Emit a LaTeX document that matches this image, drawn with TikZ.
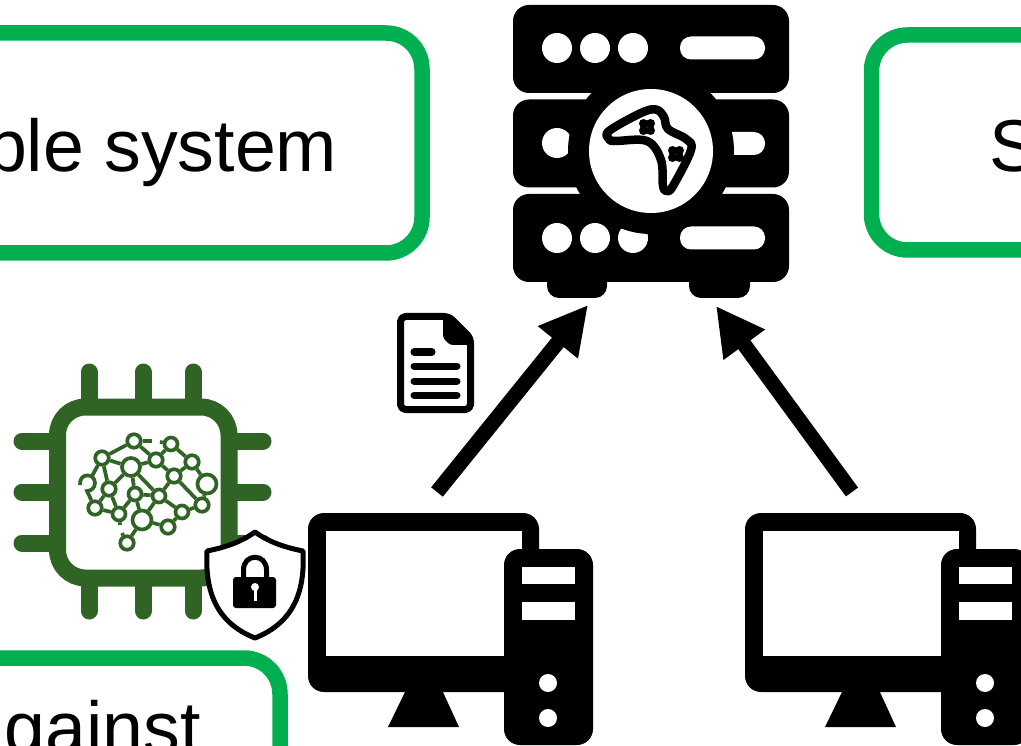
\documentclass[tikz,border=0pt]{standalone}
\usepackage{fontspec}
\setmainfont{Liberation Sans}
\usetikzlibrary{arrows.meta}
\definecolor{boxgreen}{HTML}{00B050}
\definecolor{chipgreen}{HTML}{2F6424}
\tikzset{
	greenbox/.style={draw=boxgreen,line width=15.5pt,rounded corners=36pt},
	boxtext/.style={inner sep=0pt,font=\fontsize{73.5}{80}\selectfont},
	bigarrow/.style={line width=15pt,-{Triangle[length=48pt,width=48pt]}},
	pin/.style={chipgreen,line width=17pt,line cap=round},
	brainnode/.style={circle,draw=chipgreen,fill=white,line width=3.7pt,inner sep=0pt},
	brainedge/.style={chipgreen,line width=3.7pt},
	docline/.style={black,line width=7pt,line cap=round}
}
\begin{document}
\begin{tikzpicture}[x=1pt,y=-1pt]
	\useasboundingbox (0,0) rectangle (1021,746);
	\clip (0,0) rectangle (1021,746);
	% hop chu
	\draw[greenbox] (-100,33) rectangle (422,253);
	\draw[greenbox] (1200,35) rectangle (871.5,250);
	\draw[greenbox] (-100,658) rectangle (280,900);
	\node[boxtext,anchor=base east] (sys) at (337.5,171.5) {ble system};
	\node[boxtext,anchor=base west] (srt) at (989.5,171.5) {S};
	\node[boxtext,anchor=base east] (aga) at (201,753) {against};
	% may chu
	\foreach \r in {5,99.5,194}{
		\fill[rounded corners=16pt] (513,\r) rectangle (789,\r+88);
	}
	\fill[rounded corners=12pt] (547,270) rectangle (607,298);
	\fill[rounded corners=12pt] (689,270) rectangle (750,298);
	\foreach \r in {48,238}{
		\fill[white] (557,\r) circle (15) (595,\r) circle (15) (633,\r) circle (15);
	}
	\fill[white] (557,143) circle (15);
	\foreach \r in {48,143.5,238}{
		\fill[white,rounded corners=11pt] (680,\r-11.5) rectangle (765,\r+11.5);
	}
	\fill (651,151) circle (83);
	\fill[white] (651,151) circle (62);
	\draw[line width=8.5pt,line join=round] plot[smooth cycle,tension=.6] coordinates {
		(609,131) (641,113) (656,109.5) (664,117) (668,129) (686,139) (691,150) (673,186) (667,191) (663,186) (661,160) (647,141) (615,141) (609,139)};
	\foreach \x/\y in {647/127,676/154}{
		\fill (\x-3.5,\y-3.5) circle (4.5) (\x+3.5,\y-3.5) circle (4.5) (\x-3.5,\y+3.5) circle (4.5) (\x+3.5,\y+3.5) circle (4.5);
	}
	% may tinh
	\def\pc{
		\fill[rounded corners=16pt] (308,513) rectangle (539,692);
		\fill[white] (326,531) rectangle (522,656);
		\fill (406,690) -- (442,690) -- (459,727) -- (388,727) -- cycle;
		\fill[rounded corners=16pt] (504,549) rectangle (593,745);
		\fill[white] (522,567) rectangle (575,584);
		\fill[white] (522,602) rectangle (575,620);
		\fill[white] (548,683) circle (9) (548,718) circle (9);
	}
	\begin{scope}\pc\end{scope}
	\begin{scope}[xshift=437pt]\pc\end{scope}
	\coordinate (pcA) at (437,492);
	\coordinate (pcB) at (852,492);
	\coordinate (srvA) at (588,305);
	\coordinate (srvB) at (716,306);
	\draw[bigarrow] (pcA) -- (srvA);
	\draw[bigarrow] (pcB) -- (srvB);
	% tai lieu
	\draw[line width=7pt,line join=round,rounded corners=5pt,fill=white] (400.5,316.5) -- (449,316.5) -- (470.5,338) -- (470.5,409.5) -- (400.5,409.5) -- cycle;
	\fill[rounded corners=3pt] (443,315) -- (451,315) -- (473,338) -- (473,345) -- (450,345) -- (443,338) -- cycle;
	\draw[docline] (414,352) -- (432,352);
	\foreach \r in {366,381,395}{
		\draw[docline] (414,\r) -- (457,\r);
	}
	% chip
	\foreach \r in {89,143,193}{
		\draw[pin] (\r,372) -- (\r,400);
		\draw[pin] (\r,585) -- (\r,611);
	}
	\foreach \r in {441,492,543}{
		\draw[pin] (22,\r) -- (50,\r);
		\draw[pin] (235,\r) -- (263,\r);
	}
	\draw[chipgreen,line width=17pt,rounded corners=28pt,fill=white] (57.5,407) rectangle (229,578);
	\foreach \n/\x/\y/\s in {a/134/441/13.5,b/171/444/13,c/102/458/13.5,d/131/467/18,e/156/460/13.5,f/192/462/13.5,g/174/476/13.5,h/207/484/19,j/109/489/13.5,k/135/494/13,l/159/496/13,m/95/508/13.5,n/119/514/13,o/182/512/13,p/202/505/13.5,q/142/520/19,r/168/527/13.5,s/127/543/13.5}{
		\node[brainnode,minimum size=\s pt] (\n) at (\x,\y) {};
	}
	\coordinate (stubA) at (152,441);
	\coordinate (stubB) at (160,442);
	\coordinate (stubN) at (120,525);
	\coordinate (stubS) at (122,533);
	\foreach \u/\v in {a/c,a/e,a/stubA,b/stubB,b/e,b/f,c/d,c/j,d/e,d/j,d/k,d/l,e/g,f/g,f/h,g/l,g/p,h/p,j/m,j/n,k/l,k/n,k/q,l/q,l/o,m/n,o/r,o/p,q/r,q/s,n/stubN,s/stubS}{
		\draw[brainedge] (\u) -- (\v);
	}
	\draw[brainedge] (80,485) .. controls (79,472) and (95,473) .. (95,483) .. controls (95,488) and (91,491) .. (87,491) -- (m);
	\draw[brainedge] (c) -- (92,476);
	% khien
	\draw[line width=5pt,line join=round,fill=white] (255,532) .. controls (240,543) and (222,548) .. (207,551) .. controls (205,590) and (215,622) .. (255,638) .. controls (295,622) and (305,590) .. (303,551) .. controls (288,548) and (270,543) .. (255,532) -- cycle;
	\draw[line width=5pt] (243.5,580) -- (243.5,570) .. controls (243.5,553) and (266.5,553) .. (266.5,570) -- (266.5,580);
	\fill[rounded corners=3pt] (233,577) rectangle (276,608);
	\fill[white] (255,587) circle (4);
	\draw[white,line width=3pt] (255,587) -- (255,601);
\end{tikzpicture}
\end{document}
